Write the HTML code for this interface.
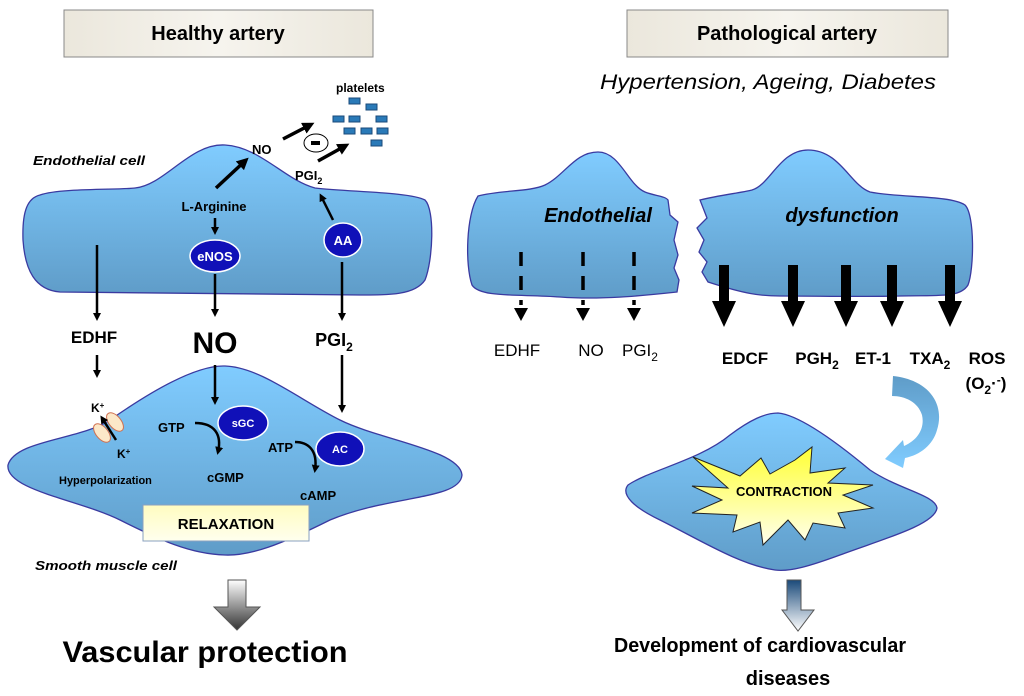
<!DOCTYPE html>
<html><head><meta charset="utf-8"><style>
html,body{margin:0;padding:0;background:#fff;}
svg{display:block;font-family:"Liberation Sans",sans-serif;}
</style></head><body>
<svg width="1024" height="696" viewBox="0 0 1024 696" xmlns="http://www.w3.org/2000/svg">
<defs>
<linearGradient id="cell" x1="0" y1="0" x2="0" y2="1"><stop offset="0" stop-color="#80ccff"/><stop offset="1" stop-color="#5f9cc8"/></linearGradient>
<linearGradient id="hdr" x1="0" y1="0" x2="1" y2="0"><stop offset="0" stop-color="#ebe7dc"/><stop offset="0.5" stop-color="#f6f4ee"/><stop offset="1" stop-color="#ebe7dc"/></linearGradient>
<linearGradient id="relax" x1="0" y1="0" x2="0" y2="1"><stop offset="0" stop-color="#fffcc0"/><stop offset="1" stop-color="#ffffee"/></linearGradient>
<linearGradient id="star" x1="0" y1="0" x2="0" y2="1"><stop offset="0" stop-color="#ffff33"/><stop offset="1" stop-color="#ffffee"/></linearGradient>
<linearGradient id="ga1" x1="0" y1="0" x2="0" y2="1"><stop offset="0" stop-color="#ffffff"/><stop offset="1" stop-color="#333"/></linearGradient>
<linearGradient id="ga2" x1="0" y1="0" x2="0" y2="1"><stop offset="0" stop-color="#1a4a7a"/><stop offset="1" stop-color="#ffffff"/></linearGradient>
<linearGradient id="curv" x1="0" y1="0" x2="0" y2="1"><stop offset="0" stop-color="#5f9cc8"/><stop offset="1" stop-color="#80ccff"/></linearGradient>
<marker id="ah" markerWidth="8" markerHeight="8" refX="5" refY="4" orient="auto" markerUnits="userSpaceOnUse"><path d="M0,0 L8,4 L0,8 Z" fill="#000"/></marker>
<marker id="ahb" markerWidth="12" markerHeight="12" refX="7" refY="6" orient="auto" markerUnits="userSpaceOnUse"><path d="M0,0 L12,6 L0,12 Z" fill="#000"/></marker>
</defs>

<rect x="64" y="10" width="309" height="47" fill="url(#hdr)" stroke="#888" stroke-width="1"/>
<text x="218" y="40" text-anchor="middle" font-size="20" font-weight="bold">Healthy artery</text>
<rect x="627" y="10" width="321" height="47" fill="url(#hdr)" stroke="#888" stroke-width="1"/>
<text x="787" y="40" text-anchor="middle" font-size="20" font-weight="bold">Pathological artery</text>
<text x="768" y="89" text-anchor="middle" font-size="21" font-style="italic" textLength="336" lengthAdjust="spacingAndGlyphs">Hypertension, Ageing, Diabetes</text>

<path d="M40,195 C60,188 120,190 135,188 C165,185 190,143 225,145 C260,147 285,180 315,188 C350,192 410,192 425,200 C435,210 433,260 425,280 C415,295 390,295 360,295 L60,292 C35,290 25,270 23,240 C22,210 28,198 40,195 Z" fill="url(#cell)" stroke="#3a3aa0" stroke-width="1.3"/>
<text x="33" y="165" font-size="13" font-style="italic" font-weight="bold" textLength="112" lengthAdjust="spacingAndGlyphs">Endothelial cell</text>
<text x="252" y="154" font-size="13" font-weight="bold">NO</text>
<line x1="216" y1="188" x2="245" y2="161" stroke="#000" stroke-width="3.5" marker-end="url(#ahb)"/>
<text x="336" y="92" font-size="12" font-weight="bold">platelets</text>
<g fill="#2a7ab8" stroke="#1a4a7a" stroke-width="1">
<rect x="349" y="98" width="11" height="6"/><rect x="366" y="104" width="11" height="6"/>
<rect x="333" y="116" width="11" height="6"/><rect x="349" y="116" width="11" height="6"/><rect x="376" y="116" width="11" height="6"/>
<rect x="344" y="128" width="11" height="6"/><rect x="361" y="128" width="11" height="6"/><rect x="377" y="128" width="11" height="6"/>
<rect x="371" y="140" width="11" height="6"/>
</g>
<line x1="283" y1="139" x2="310" y2="125" stroke="#000" stroke-width="3.5" marker-end="url(#ahb)"/>
<ellipse cx="316" cy="143" rx="12" ry="9" fill="#fff" stroke="#000" stroke-width="1"/>
<rect x="311" y="141" width="9" height="4" fill="#000"/>
<line x1="318" y1="161" x2="345" y2="146" stroke="#000" stroke-width="3.5" marker-end="url(#ahb)"/>
<text x="295" y="180" font-size="13" font-weight="bold">PGI<tspan font-size="9" dy="4">2</tspan></text>
<line x1="333" y1="220" x2="321" y2="196" stroke="#000" stroke-width="2.5" marker-end="url(#ah)"/>
<text x="214" y="211" text-anchor="middle" font-size="13" font-weight="bold">L-Arginine</text>
<line x1="215" y1="218" x2="215" y2="232" stroke="#000" stroke-width="2.5" marker-end="url(#ah)"/>
<ellipse cx="215" cy="256" rx="25" ry="16" fill="#1010b8" stroke="#fff" stroke-width="1.5"/>
<text x="215" y="261" text-anchor="middle" font-size="13" font-weight="bold" fill="#fff">eNOS</text>
<ellipse cx="343" cy="240" rx="19" ry="17" fill="#1010b8" stroke="#fff" stroke-width="1.5"/>
<text x="343" y="245" text-anchor="middle" font-size="13" font-weight="bold" fill="#fff">AA</text>
<line x1="97" y1="245" x2="97" y2="318" stroke="#000" stroke-width="2.5" marker-end="url(#ah)"/>
<line x1="215" y1="274" x2="215" y2="314" stroke="#000" stroke-width="2.5" marker-end="url(#ah)"/>
<line x1="342" y1="262" x2="342" y2="318" stroke="#000" stroke-width="2.5" marker-end="url(#ah)"/>
<text x="94" y="343" text-anchor="middle" font-size="17" font-weight="bold">EDHF</text>
<text x="215" y="353" text-anchor="middle" font-size="30" font-weight="bold">NO</text>
<text x="334" y="346" text-anchor="middle" font-size="18" font-weight="bold">PGI<tspan font-size="12" dy="5">2</tspan></text>
<line x1="97" y1="355" x2="97" y2="375" stroke="#000" stroke-width="2.5" marker-end="url(#ah)"/>

<path d="M8,465 C15,440 80,440 110,420 C160,385 200,365 225,366 C260,367 300,400 340,420 C380,440 460,450 462,475 C460,500 390,495 330,520 C280,545 250,556 225,555 C190,554 160,540 120,520 C80,500 5,490 8,465 Z" fill="url(#cell)" stroke="#3a3aa0" stroke-width="1.3"/>
<line x1="215" y1="365" x2="215" y2="402" stroke="#000" stroke-width="2.5" marker-end="url(#ah)"/>
<line x1="342" y1="355" x2="342" y2="410" stroke="#000" stroke-width="2.5" marker-end="url(#ah)"/>
<text x="91" y="412" font-size="12" font-weight="bold">K<tspan font-size="8" dy="-4">+</tspan></text>
<text x="117" y="458" font-size="12" font-weight="bold">K<tspan font-size="8" dy="-4">+</tspan></text>
<ellipse cx="102" cy="433" rx="6" ry="11" transform="rotate(-40 102 433)" fill="#fce8c8" stroke="#d07050" stroke-width="1"/>
<ellipse cx="115" cy="422" rx="6" ry="11" transform="rotate(-40 115 422)" fill="#fce8c8" stroke="#d07050" stroke-width="1"/>
<line x1="116" y1="440" x2="102" y2="418" stroke="#000" stroke-width="2.5" marker-end="url(#ah)"/>
<text x="59" y="484" font-size="11" font-weight="bold">Hyperpolarization</text>
<text x="158" y="432" font-size="13" font-weight="bold">GTP</text>
<path d="M195,423 C215,423 222,435 218,452" fill="none" stroke="#000" stroke-width="2.5" marker-end="url(#ah)"/>
<ellipse cx="243" cy="423" rx="25" ry="17" fill="#1010b8" stroke="#fff" stroke-width="1.5"/>
<text x="243" y="427" text-anchor="middle" font-size="11" font-weight="bold" fill="#fff">sGC</text>
<text x="207" y="482" font-size="13" font-weight="bold">cGMP</text>
<text x="268" y="452" font-size="13" font-weight="bold">ATP</text>
<path d="M295,442 C308,442 318,450 315,470" fill="none" stroke="#000" stroke-width="2.5" marker-end="url(#ah)"/>
<ellipse cx="340" cy="449" rx="24" ry="17" fill="#1010b8" stroke="#fff" stroke-width="1.5"/>
<text x="340" y="453" text-anchor="middle" font-size="11" font-weight="bold" fill="#fff">AC</text>
<text x="300" y="500" font-size="13" font-weight="bold">cAMP</text>
<rect x="143" y="505" width="166" height="36" fill="url(#relax)" stroke="#8aa0c0" stroke-width="1"/>
<text x="226" y="529" text-anchor="middle" font-size="15" font-weight="bold">RELAXATION</text>
<text x="35" y="570" font-size="13" font-style="italic" font-weight="bold" textLength="142" lengthAdjust="spacingAndGlyphs">Smooth muscle cell</text>
<path d="M228,580 L246,580 L246,607 L260,607 L237,630 L214,607 L228,607 Z" fill="url(#ga1)" stroke="#555" stroke-width="1"/>
<text x="205" y="662" text-anchor="middle" font-size="30" font-weight="bold" textLength="285" lengthAdjust="spacingAndGlyphs">Vascular protection</text>

<path d="M478,196 C500,190 530,192 545,185 C565,175 575,152 598,152 C620,152 628,185 645,192 C655,196 665,196 668,200 L670,215 L678,222 L674,240 L678,255 L674,268 L679,280 L677,292 C640,296 600,300 560,297 C520,294 480,298 472,285 C465,265 466,215 478,196 Z" fill="url(#cell)" stroke="#3a3aa0" stroke-width="1.3"/>
<path d="M700,200 C720,195 740,193 752,190 C770,185 780,150 808,150 C840,150 850,185 870,192 C900,198 950,195 965,205 C975,215 974,270 968,285 C960,298 940,295 900,296 C860,297 820,296 780,296 C760,296 745,294 708,282 L702,272 L707,262 L699,252 L704,240 L697,228 L707,218 Z" fill="url(#cell)" stroke="#3a3aa0" stroke-width="1.3"/>
<text x="598" y="222" text-anchor="middle" font-size="20" font-weight="bold" font-style="italic">Endothelial</text>
<text x="842" y="222" text-anchor="middle" font-size="20" font-weight="bold" font-style="italic">dysfunction</text>
<g stroke="#000" stroke-width="3.5" stroke-dasharray="14,10">
<line x1="521" y1="252" x2="521" y2="305"/><line x1="583" y1="252" x2="583" y2="305"/><line x1="634" y1="252" x2="634" y2="305"/>
</g>
<g fill="#000">
<path d="M514,308 L528,308 L521,321 Z"/><path d="M576,308 L590,308 L583,321 Z"/><path d="M627,308 L641,308 L634,321 Z"/>
</g>
<text x="517" y="356" text-anchor="middle" font-size="17">EDHF</text>
<text x="591" y="356" text-anchor="middle" font-size="17">NO</text>
<text x="640" y="356" text-anchor="middle" font-size="17">PGI<tspan font-size="12" dy="5">2</tspan></text>
<g fill="#000">
<path d="M719,265 L729,265 L729,301 L736,301 L724,327 L712,301 L719,301 Z"/>
<path d="M788,265 L798,265 L798,301 L805,301 L793,327 L781,301 L788,301 Z"/>
<path d="M841,265 L851,265 L851,301 L858,301 L846,327 L834,301 L841,301 Z"/>
<path d="M887,265 L897,265 L897,301 L904,301 L892,327 L880,301 L887,301 Z"/>
<path d="M945,265 L955,265 L955,301 L962,301 L950,327 L938,301 L945,301 Z"/>
</g>
<g font-size="17" font-weight="bold" text-anchor="middle">
<text x="745" y="364">EDCF</text>
<text x="817" y="364">PGH<tspan font-size="12" dy="5">2</tspan></text>
<text x="873" y="364">ET-1</text>
<text x="930" y="364">TXA<tspan font-size="12" dy="5">2</tspan></text>
<text x="987" y="364">ROS</text>
<text x="986" y="389">(O<tspan font-size="12" dy="5">2</tspan><tspan dy="-5">·</tspan><tspan font-size="12" dy="-5">-</tspan><tspan dy="5">)</tspan></text>
</g>
<path d="M893,376 C930,380 945,405 937,430 C933,445 920,455 905,458 L903,468 L885,459 L903,440 L904,446 C918,440 925,428 922,415 C918,402 905,396 892,396 Z" fill="url(#curv)"/>

<path d="M628,485 C650,470 700,460 730,435 C750,420 765,413 778,413 C800,415 840,445 870,470 C900,490 935,495 937,508 C935,525 880,540 840,555 C810,566 790,572 775,570 C740,565 700,540 660,520 C635,508 620,495 628,485 Z" fill="url(#cell)" stroke="#3a3aa0" stroke-width="1.3"/>
<path d="M693,457 L740,476 L761,458 L770,474 L795,460 L812,447 L810,473 L845,468 L828,483 L873,485 L843,495 L873,508 L838,513 L845,528 L813,523 L805,540 L788,520 L763,545 L760,522 L733,532 L737,515 L692,513 L722,500 L692,486 L728,488 Z" fill="url(#star)" stroke="#222" stroke-width="1"/>
<text x="784" y="496" text-anchor="middle" font-size="13" font-weight="bold">CONTRACTION</text>
<path d="M787,580 L801,580 L801,610 L814,610 L798,631 L782,610 L787,610 Z" fill="url(#ga2)" stroke="#555" stroke-width="1"/>
<text x="760" y="652" text-anchor="middle" font-size="20" font-weight="bold" textLength="292" lengthAdjust="spacingAndGlyphs">Development of cardiovascular</text>
<text x="788" y="685" text-anchor="middle" font-size="20" font-weight="bold">diseases</text>
</svg>
</body></html>
